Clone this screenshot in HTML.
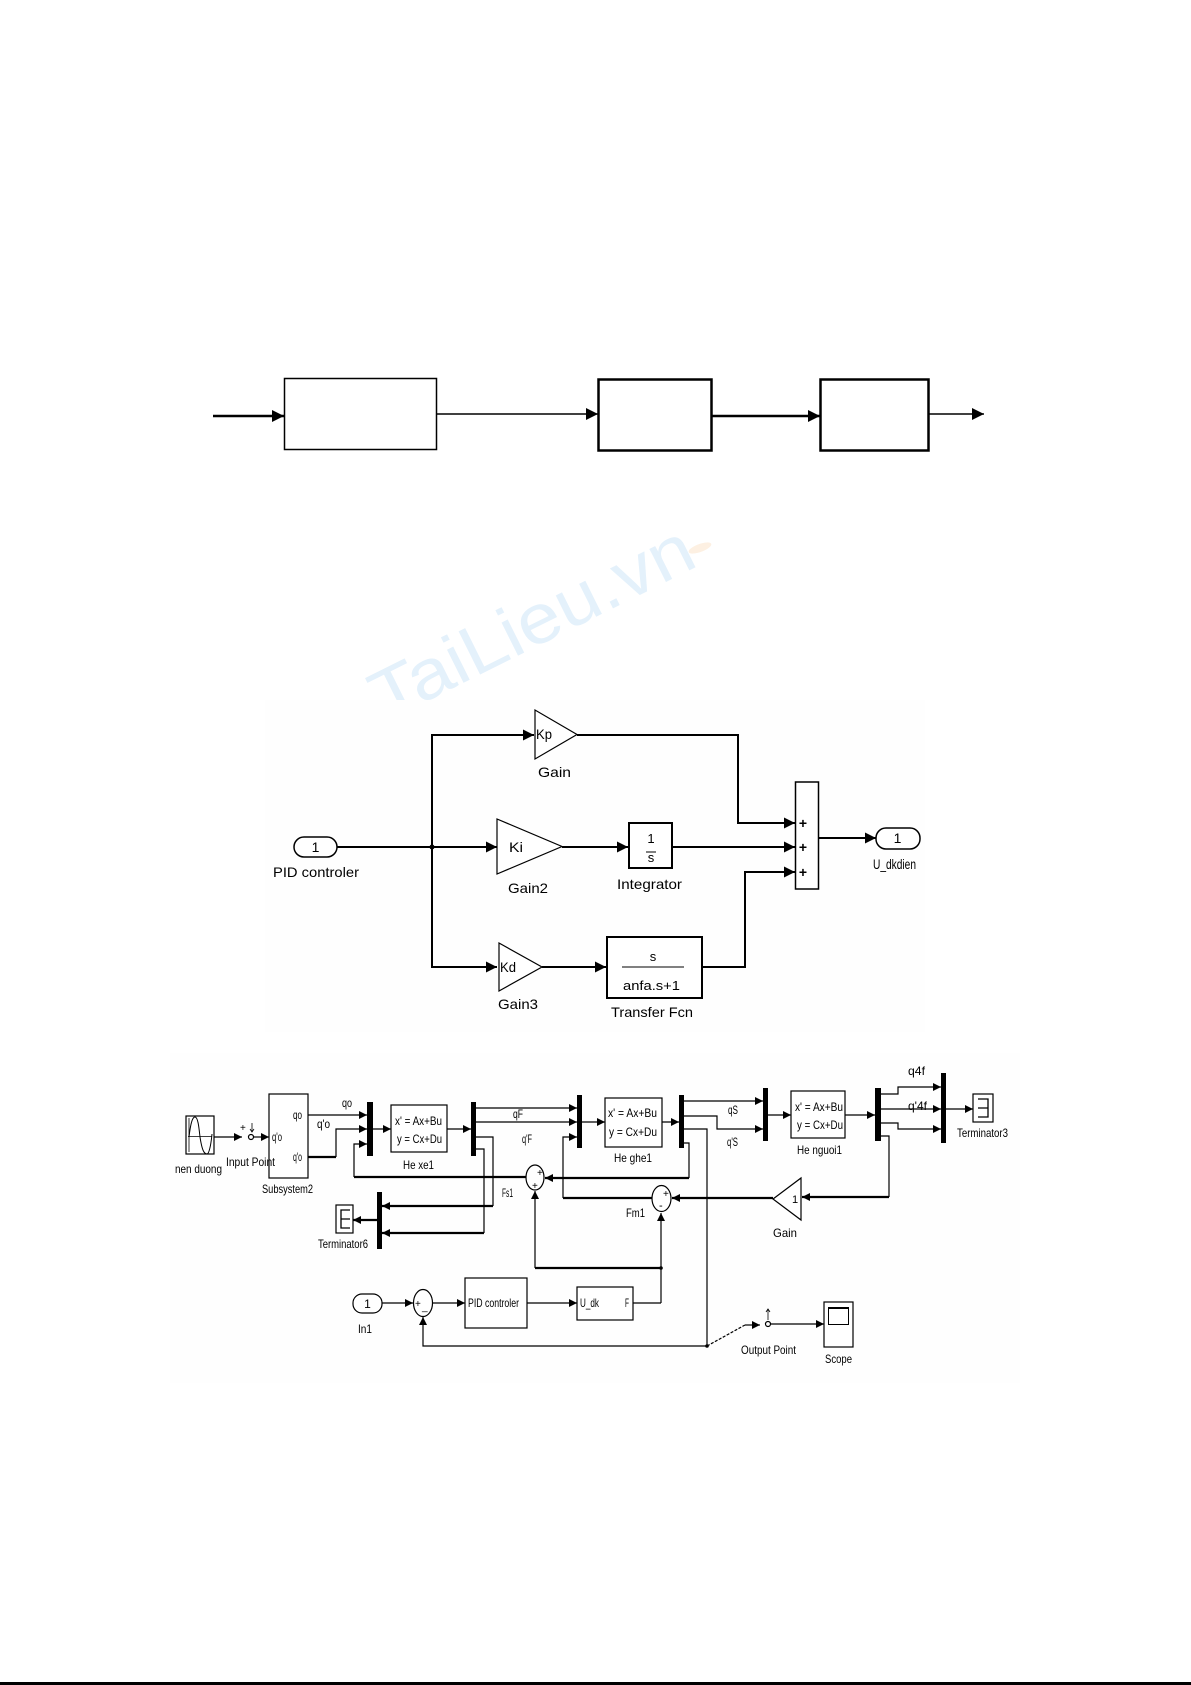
<!DOCTYPE html>
<html><head><meta charset="utf-8"><style>
html,body{margin:0;padding:0;background:#fff;}
svg{display:block;}
text{font-family:"Liberation Sans",Arial,sans-serif;fill:#000;}
</style></head><body>
<svg width="1191" height="1685" viewBox="0 0 1191 1685" xmlns="http://www.w3.org/2000/svg">
<defs>
<marker id="T" markerWidth="12" markerHeight="12" refX="12" refY="6" orient="auto" markerUnits="userSpaceOnUse"><path d="M0,0 L12,6 L0,12 z" fill="#000"/></marker>
<marker id="A" markerWidth="11" markerHeight="11" refX="11" refY="5.5" orient="auto" markerUnits="userSpaceOnUse"><path d="M0,0 L11,5.5 L0,11 z" fill="#000"/></marker>
<marker id="a" markerWidth="8" markerHeight="8" refX="8" refY="4" orient="auto" markerUnits="userSpaceOnUse"><path d="M0,0 L8,4 L0,8 z" fill="#000"/></marker>
<clipPath id="wm"><rect x="0" y="0" width="1191" height="703"/></clipPath>
</defs>

<!-- watermark -->
<g clip-path="url(#wm)">
<text x="0" y="0" transform="translate(385,722) rotate(-26.5)" font-size="70" textLength="352" lengthAdjust="spacingAndGlyphs" style="fill:#e4f1fb">TaiLieu.vn</text>
<ellipse cx="700" cy="548" rx="12" ry="4" transform="rotate(-20 700 548)" fill="#fdf0e2"/>
</g>

<!-- top block diagram -->
<g stroke="#000" fill="none">
<line x1="213" y1="416" x2="284" y2="416" stroke-width="2.5" marker-end="url(#T)"/>
<rect x="284.5" y="378.5" width="152" height="71" stroke-width="1.5" fill="#fff"/>
<line x1="437" y1="414" x2="598" y2="414" stroke-width="1.6" marker-end="url(#T)"/>
<rect x="598.5" y="379.5" width="113" height="71" stroke-width="2.5" fill="#fff"/>
<line x1="712" y1="416" x2="820" y2="416" stroke-width="2.5" marker-end="url(#T)"/>
<rect x="820.5" y="379.5" width="108" height="71" stroke-width="2.5" fill="#fff"/>
<line x1="929" y1="414" x2="984" y2="414" stroke-width="1.6" marker-end="url(#T)"/>
</g>

<!-- PID diagram -->
<rect x="265" y="700" width="660" height="332" fill="#fefefe"/>
<g stroke="#000" fill="none" stroke-width="2">
<rect x="294" y="837" width="43" height="20" rx="10" fill="#fff" stroke-width="1.5"/>
<line x1="337" y1="847" x2="432" y2="847"/>
<polyline points="432,847 432,735 534,735" marker-end="url(#A)"/>
<line x1="432" y1="847" x2="497" y2="847" marker-end="url(#A)"/>
<polyline points="432,847 432,967 497,967" marker-end="url(#A)"/>
<polygon points="535,710 535,759 577,734.5" stroke-width="1.2" fill="#fff"/>
<polygon points="497,819 497,874 562,846.5" stroke-width="1.2" fill="#fff"/>
<polygon points="499,943 499,991 542,967" stroke-width="1.2" fill="#fff"/>
<polyline points="577,735 738,735 738,823 795,823" marker-end="url(#A)"/>
<line x1="562" y1="847" x2="628" y2="847" marker-end="url(#A)"/>
<rect x="629" y="823" width="43" height="45" stroke-width="2" fill="#fff"/>
<line x1="672" y1="847" x2="795" y2="847" marker-end="url(#A)"/>
<line x1="542" y1="967" x2="606" y2="967" marker-end="url(#A)"/>
<rect x="607" y="937" width="95" height="61" stroke-width="2" fill="#fff"/>
<polyline points="702,967 745,967 745,872 795,872" marker-end="url(#A)"/>
<rect x="795.5" y="782" width="23" height="107" stroke-width="1.5" fill="#fff"/>
<line x1="819" y1="838" x2="876" y2="838" marker-end="url(#A)"/>
<rect x="876" y="828" width="44" height="21" rx="10" fill="#fff" stroke-width="1.5"/>
<line x1="646" y1="852" x2="656" y2="852" stroke-width="1"/>
<line x1="622" y1="967" x2="684" y2="967" stroke-width="1"/>
</g>
<circle cx="432" cy="847" r="2.5" fill="#000"/>
<g font-size="14">
<text x="315.5" y="852" text-anchor="middle">1</text>
<text x="897.5" y="843" text-anchor="middle">1</text>
<text x="273" y="877" textLength="86" lengthAdjust="spacingAndGlyphs">PID controler</text>
<text x="536" y="739" textLength="16" lengthAdjust="spacingAndGlyphs">Kp</text>
<text x="509" y="852" textLength="14" lengthAdjust="spacingAndGlyphs">Ki</text>
<text x="500" y="972" textLength="16" lengthAdjust="spacingAndGlyphs">Kd</text>
<text x="538" y="777" textLength="33" lengthAdjust="spacingAndGlyphs">Gain</text>
<text x="508" y="893" textLength="40" lengthAdjust="spacingAndGlyphs">Gain2</text>
<text x="617" y="889" textLength="65" lengthAdjust="spacingAndGlyphs">Integrator</text>
<text x="498" y="1009" textLength="40" lengthAdjust="spacingAndGlyphs">Gain3</text>
<text x="611" y="1017" textLength="82" lengthAdjust="spacingAndGlyphs">Transfer Fcn</text>
<text x="873" y="869" textLength="43" lengthAdjust="spacingAndGlyphs">U_dkdien</text>
<text x="651" y="843" text-anchor="middle" font-size="13">1</text>
<text x="651" y="862" text-anchor="middle" font-size="13">s</text>
<text x="653" y="961" text-anchor="middle" font-size="13">s</text>
<text x="623" y="990" font-size="13" textLength="57" lengthAdjust="spacingAndGlyphs">anfa.s+1</text>
<text x="803" y="828" text-anchor="middle" font-weight="bold">+</text>
<text x="803" y="852" text-anchor="middle" font-weight="bold">+</text>
<text x="803" y="877" text-anchor="middle" font-weight="bold">+</text>
</g>

<!-- bottom Simulink diagram -->
<rect x="170" y="1053" width="850" height="330" fill="#fefefe"/>
<g stroke="#000" fill="none" stroke-width="1.2">
<rect x="186" y="1116" width="28" height="38" fill="#fff"/>
<line x1="188" y1="1136.5" x2="212" y2="1136.5" stroke-width="0.8"/>
<line x1="189" y1="1118" x2="189" y2="1152" stroke-width="0.8"/>
<path d="M189,1137 C191,1120 193,1117 195,1117 C198,1117 199,1128 200,1137 C202,1150 204,1154 207,1154 C209,1154 211,1145 212,1134" stroke-width="1"/>
<line x1="214" y1="1137" x2="242" y2="1137" marker-end="url(#a)"/>
<circle cx="251" cy="1137" r="2.5" fill="#fff"/>
<line x1="252" y1="1123" x2="252" y2="1132" stroke-width="0.8"/>
<polyline points="250,1129 252,1132 254,1129" stroke-width="0.8"/>
<line x1="254" y1="1137" x2="269" y2="1137" marker-end="url(#a)"/>
<rect x="269" y="1094" width="39" height="84" fill="#fff"/>
<line x1="308" y1="1115" x2="367" y2="1115" marker-end="url(#a)"/>
<polyline points="308,1157 336,1157" stroke-width="2.2"/>
<polyline points="336,1157 336,1129 367,1129" marker-end="url(#a)"/>
<polyline points="526,1177 354,1177" stroke-width="2.2"/>
<polyline points="354,1177 354,1144 367,1144" marker-end="url(#a)"/>
<line x1="373" y1="1129" x2="391" y2="1129" marker-end="url(#a)"/>
<rect x="391" y="1105" width="56" height="47" fill="#fff"/>
<line x1="447" y1="1129" x2="471" y2="1129" marker-end="url(#a)"/>
<line x1="476" y1="1108" x2="577" y2="1108" marker-end="url(#a)"/>
<line x1="476" y1="1122" x2="577" y2="1122" marker-end="url(#a)"/>
<polyline points="476,1137 493,1137 493,1206"/>
<line x1="493" y1="1206" x2="382" y2="1206" stroke-width="2.2" marker-end="url(#a)"/>
<polyline points="476,1149 484,1149 484,1233"/>
<line x1="484" y1="1233" x2="382" y2="1233" stroke-width="2.2" marker-end="url(#a)"/>
<line x1="377" y1="1220" x2="353" y2="1220" stroke-width="2.2" marker-end="url(#a)"/>
<rect x="336" y="1205" width="17" height="28" fill="#fff"/>
<path d="M350,1210 L341,1210 L341,1228 L350,1228 M341,1219 L350,1219" stroke-width="1.3"/>
<polyline points="652,1198 563,1198" stroke-width="2.2"/>
<polyline points="563,1198 563,1137 577,1137" marker-end="url(#a)"/>
<line x1="582" y1="1122" x2="605" y2="1122" marker-end="url(#a)"/>
<rect x="605" y="1098" width="57" height="49" fill="#fff"/>
<line x1="662" y1="1122" x2="679" y2="1122" marker-end="url(#a)"/>
<line x1="684" y1="1101" x2="763" y2="1101" marker-end="url(#a)"/>
<polyline points="684,1116 717,1116 717,1129 763,1129" marker-end="url(#a)"/>
<polyline points="684,1129 707,1129 707,1346"/>
<polyline points="684,1143 689,1143 689,1178"/>
<line x1="689" y1="1178" x2="545" y2="1178" stroke-width="2.2" marker-end="url(#a)"/>
<ellipse cx="535" cy="1177.5" rx="9" ry="12.5" fill="#fff"/>
<line x1="535" y1="1268" x2="535" y2="1191" marker-end="url(#a)"/>
<line x1="535" y1="1268" x2="661" y2="1268" stroke-width="2.2"/>
<ellipse cx="661.5" cy="1198.5" rx="9.5" ry="13" fill="#fff"/>
<line x1="773" y1="1198" x2="672" y2="1198" stroke-width="2.2" marker-end="url(#a)"/>
<line x1="661" y1="1303" x2="661" y2="1213" marker-end="url(#a)"/>
<polygon points="801,1178 801,1220 773,1199" fill="#fff"/>
<polyline points="881,1136 889,1136 889,1197"/>
<line x1="889" y1="1197" x2="802" y2="1197" stroke-width="2.2" marker-end="url(#a)"/>
<line x1="768" y1="1115" x2="791" y2="1115" marker-end="url(#a)"/>
<rect x="791" y="1091" width="54" height="47" fill="#fff"/>
<line x1="845" y1="1115" x2="875" y2="1115" marker-end="url(#a)"/>
<polyline points="881,1094 898,1094 898,1087 941,1087" marker-end="url(#a)"/>
<line x1="881" y1="1109" x2="941" y2="1109" marker-end="url(#a)"/>
<polyline points="881,1123 898,1123 898,1129 941,1129" marker-end="url(#a)"/>
<line x1="946" y1="1109" x2="973" y2="1109" marker-end="url(#a)"/>
<rect x="973" y="1094" width="20" height="28" fill="#fff"/>
<path d="M978,1099 L988,1099 L988,1117 L978,1117 M978,1108 L988,1108" stroke-width="1.3"/>
<rect x="353" y="1294" width="29" height="19" rx="9" fill="#fff"/>
<line x1="382" y1="1303" x2="413" y2="1303" marker-end="url(#a)"/>
<ellipse cx="423" cy="1303" rx="9.5" ry="13.5" fill="#fff"/>
<polyline points="707,1346 423,1346 423,1317" marker-end="url(#a)"/>
<line x1="432" y1="1303" x2="465" y2="1303" marker-end="url(#a)"/>
<rect x="465" y="1278" width="62" height="50" fill="#fff"/>
<line x1="527" y1="1303" x2="577" y2="1303" marker-end="url(#a)"/>
<rect x="577" y="1287" width="56" height="33" fill="#fff"/>
<polyline points="633,1303 661,1303"/>
<polyline points="707,1346 745,1325" stroke-dasharray="3,1.5"/>
<line x1="745" y1="1325" x2="760" y2="1325" marker-end="url(#a)"/>
<circle cx="768" cy="1324" r="2.5" fill="#fff"/>
<line x1="768" y1="1309" x2="768" y2="1320" stroke-width="0.8"/>
<polyline points="766,1312 768,1309 770,1312" stroke-width="0.8"/>
<line x1="771" y1="1324" x2="824" y2="1324" marker-end="url(#a)"/>
<rect x="824" y="1302" width="29" height="45" fill="#fff"/>
<rect x="828.5" y="1307.5" width="20" height="17" stroke-width="1"/>
<line x1="828" y1="1308" x2="849" y2="1308" stroke-width="2"/>
</g>
<g fill="#000">
<rect x="367" y="1102" width="6" height="54"/>
<rect x="471" y="1102" width="5" height="54"/>
<rect x="377" y="1192" width="5" height="57"/>
<rect x="577" y="1095" width="5" height="53"/>
<rect x="679" y="1095" width="5" height="53"/>
<rect x="763" y="1088" width="5" height="53"/>
<rect x="875" y="1088" width="6" height="53"/>
<rect x="941" y="1073" width="5" height="70"/>
<circle cx="661" cy="1268" r="1.8"/>
<circle cx="707" cy="1346" r="1.8"/>
</g>
<g font-size="12">
<text x="175" y="1173" textLength="47" lengthAdjust="spacingAndGlyphs">nen duong</text>
<text x="226" y="1166" textLength="49" lengthAdjust="spacingAndGlyphs">Input Point</text>
<text x="240" y="1131" font-size="10">+</text>
<text x="262" y="1193" textLength="51" lengthAdjust="spacingAndGlyphs">Subsystem2</text>
<text x="272" y="1141" textLength="10" lengthAdjust="spacingAndGlyphs">q'o</text>
<text x="293" y="1119" textLength="9" lengthAdjust="spacingAndGlyphs">qo</text>
<text x="293" y="1161" textLength="9" lengthAdjust="spacingAndGlyphs">q'o</text>
<text x="342" y="1107" textLength="10" lengthAdjust="spacingAndGlyphs">qo</text>
<text x="317" y="1128" textLength="13" lengthAdjust="spacingAndGlyphs">q'o</text>
<text x="395" y="1125" textLength="47" lengthAdjust="spacingAndGlyphs">x' = Ax+Bu</text>
<text x="397" y="1143" textLength="45" lengthAdjust="spacingAndGlyphs">y = Cx+Du</text>
<text x="403" y="1169" textLength="31" lengthAdjust="spacingAndGlyphs">He xe1</text>
<text x="513" y="1118" textLength="10" lengthAdjust="spacingAndGlyphs">qF</text>
<text x="522" y="1143" textLength="10" lengthAdjust="spacingAndGlyphs">q'F</text>
<text x="318" y="1248" textLength="50" lengthAdjust="spacingAndGlyphs">Terminator6</text>
<text x="502" y="1197" textLength="11" lengthAdjust="spacingAndGlyphs">Fs1</text>
<text x="537" y="1176" font-size="10">+</text>
<text x="532" y="1189" font-size="10">+</text>
<text x="608" y="1117" textLength="49" lengthAdjust="spacingAndGlyphs">x' = Ax+Bu</text>
<text x="609" y="1136" textLength="48" lengthAdjust="spacingAndGlyphs">y = Cx+Du</text>
<text x="614" y="1162" textLength="38" lengthAdjust="spacingAndGlyphs">He ghe1</text>
<text x="728" y="1114" textLength="10" lengthAdjust="spacingAndGlyphs">qS</text>
<text x="727" y="1146" textLength="11" lengthAdjust="spacingAndGlyphs">q'S</text>
<text x="626" y="1217" textLength="19" lengthAdjust="spacingAndGlyphs">Fm1</text>
<text x="663" y="1197" font-size="10">+</text>
<text x="659" y="1209" font-size="11">-</text>
<text x="792" y="1203" font-size="11">1</text>
<text x="773" y="1237" textLength="24" lengthAdjust="spacingAndGlyphs">Gain</text>
<text x="795" y="1111" textLength="48" lengthAdjust="spacingAndGlyphs">x' = Ax+Bu</text>
<text x="797" y="1129" textLength="46" lengthAdjust="spacingAndGlyphs">y = Cx+Du</text>
<text x="797" y="1154" textLength="45" lengthAdjust="spacingAndGlyphs">He nguoi1</text>
<text x="908" y="1075" textLength="17" lengthAdjust="spacingAndGlyphs">q4f</text>
<text x="908" y="1110" textLength="19" lengthAdjust="spacingAndGlyphs">q'4f</text>
<text x="957" y="1137" textLength="51" lengthAdjust="spacingAndGlyphs">Terminator3</text>
<text x="367.5" y="1308" text-anchor="middle">1</text>
<text x="358" y="1333" textLength="14" lengthAdjust="spacingAndGlyphs">In1</text>
<text x="415" y="1307" font-size="10">+</text>
<text x="422" y="1310" font-size="10">_</text>
<text x="468" y="1307" textLength="51" lengthAdjust="spacingAndGlyphs">PID controler</text>
<text x="580" y="1307" textLength="19" lengthAdjust="spacingAndGlyphs">U_dk</text>
<text x="625" y="1307" textLength="4" lengthAdjust="spacingAndGlyphs">F</text>
<text x="741" y="1354" textLength="55" lengthAdjust="spacingAndGlyphs">Output Point</text>
<text x="825" y="1363" textLength="27" lengthAdjust="spacingAndGlyphs">Scope</text>
</g>

<rect x="0" y="1682" width="1191" height="3" fill="#000"/>
</svg>
</body></html>
